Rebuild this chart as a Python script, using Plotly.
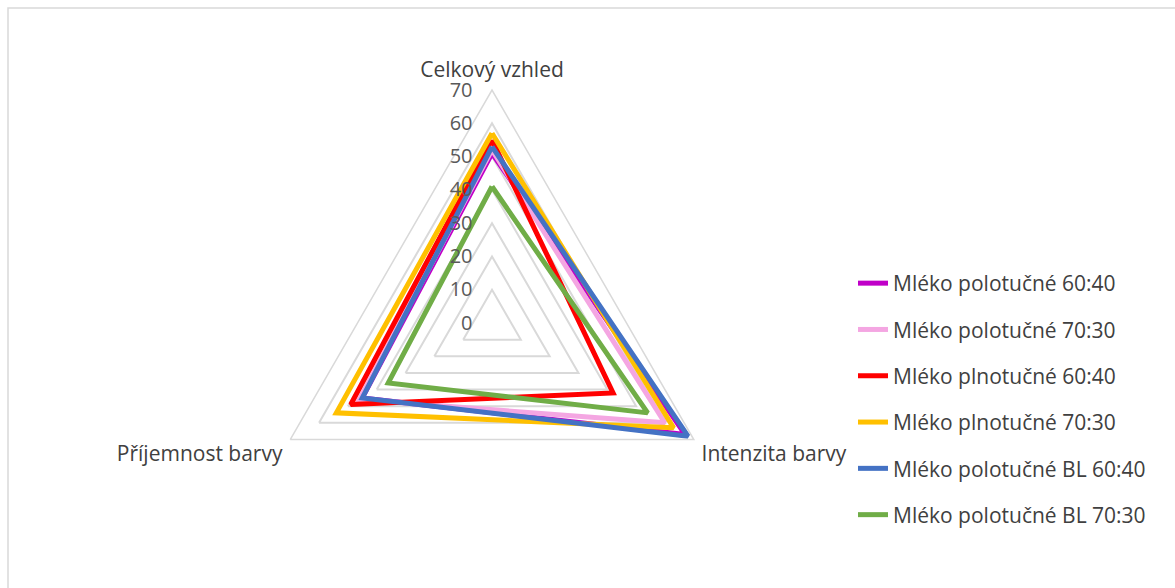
import plotly.graph_objects as go

# Sensory attributes (radar axes)
categories = ["Celkový vzhled", "Intenzita barvy", "Příjemnost barvy"]

# Sample names and their scores on each attribute
series_names = [
    "Mléko polotučné 60:40",
    "Mléko polotučné 70:30",
    "Mléko plnotučné 60:40",
    "Mléko plnotučné 70:30",
    "Mléko polotučné BL 60:40",
    "Mléko polotučné BL 70:30",
]
polotucne_60_40 = [51, 67, 45]
polotucne_70_30 = [52, 60, 46]
plnotucne_60_40 = [55, 42, 49]
plnotucne_70_30 = [57, 63, 54]
polotucne_bl_60_40 = [53, 68, 45]
polotucne_bl_70_30 = [41, 54, 36]

series_values = [
    polotucne_60_40,
    polotucne_70_30,
    plnotucne_60_40,
    plnotucne_70_30,
    polotucne_bl_60_40,
    polotucne_bl_70_30,
]
series_colors = ["#C000C8", "#F4A6E2", "#FF0000", "#FFC000", "#4472C4", "#70AD47"]

radial_ticks = [0, 10, 20, 30, 40, 50, 60, 70]

FONT = "Open Sans, Noto Sans, sans-serif"
TEXT = "#404040"
GRID = "#D9D9D9"

fig = go.Figure()
for i, (name, vals, col) in enumerate(zip(series_names, series_values, series_colors)):
    fig.add_trace(go.Scatterpolar(
        r=vals + vals[:1],
        theta=categories + categories[:1],
        mode="lines",
        name=name,
        legendgroup=f"g{i}",
        line=dict(color=col, width=5),
    ))

W, H = 1175, 588
cx, cy, R = 492, 323, 233

fig.update_layout(
    width=W, height=H,
    margin=dict(l=0, r=0, t=0, b=0),
    paper_bgcolor="white",
    plot_bgcolor="white",
    font=dict(family=FONT, color=TEXT),
    polar=dict(
        domain=dict(x=[(cx - R) / W, (cx + R) / W], y=[1 - (cy + R) / H, 1 - (cy - R) / H]),
        gridshape="linear",
        bgcolor="white",
        radialaxis=dict(
            range=[0, 70],
            tickvals=radial_ticks,
            angle=90,
            tickangle=90,
            side="counterclockwise",
            showline=False,
            showgrid=True,
            gridcolor=GRID,
            gridwidth=1.5,
            ticks="outside",
            ticklen=12,
            tickcolor="rgba(0,0,0,0)",
            tickfont=dict(size=20, color="#595959", family=FONT),
        ),
        angularaxis=dict(
            rotation=90,
            direction="clockwise",
            showgrid=False,
            showline=True,
            linecolor=GRID,
            linewidth=1.5,
            ticks="outside",
            ticklen=4,
            tickcolor="rgba(0,0,0,0)",
            tickfont=dict(size=21, color=TEXT, family=FONT),
        ),
    ),
    legend=dict(
        x=853 / W, y=1 - 263 / H,
        xanchor="left", yanchor="top",
        font=dict(size=21, color=TEXT, family=FONT),
        tracegroupgap=16,
        bgcolor="rgba(0,0,0,0)",
    ),
    shapes=[dict(
        type="rect", xref="paper", yref="paper",
        x0=8 / W, x1=1.01, y0=-0.01, y1=1 - 8 / H,
        line=dict(color=GRID, width=1.5),
    )],
)

fig.write_html("out.html")
